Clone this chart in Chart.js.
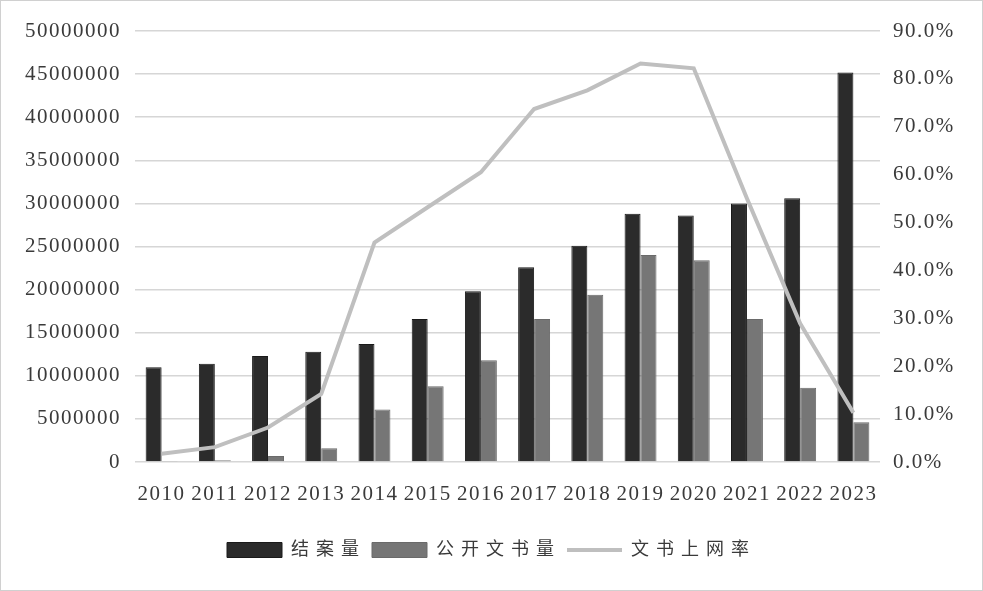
<!DOCTYPE html>
<html>
<head>
<meta charset="utf-8">
<script src="https://cdn.jsdelivr.net/npm/chart.js@4"></script>
<style>
  html, body { margin: 0; padding: 0; background: #fff; }
  #wrap { width: 983px; height: 591px; }
</style>
</head>
<body>
<div id="wrap"><canvas id="caseChart" width="983" height="591"></canvas></div>
<script>
const years = ['2010', '2011', '2012', '2013', '2014', '2015', '2016', '2017', '2018', '2019', '2020', '2021', '2022', '2023'];
const closedCases = [11000000, 11400000, 12300000, 12800000, 13700000, 16600000, 19800000, 22600000, 25100000, 28800000, 28600000, 30000000, 30600000, 45200000];
const publishedDocs = [50000, 200000, 700000, 1600000, 6100000, 8800000, 11800000, 16600000, 19400000, 24000000, 23400000, 16600000, 8600000, 4600000];
const onlineRate = [1.7, 3.1, 7.2, 14.2, 45.8, 53.2, 60.5, 73.7, 77.6, 83.2, 82.2, 55.0, 28.9, 10.3];

const FONT = "'Liberation Serif', 'Noto Sans CJK SC', serif";

const ctx = document.getElementById('caseChart').getContext('2d');

// the original is typeset loosely: wide gaps between CJK glyphs, a bit between digits
const CJK = /[\u3400-\u9fff]/;
const origFill = ctx.fillText, origMeasure = ctx.measureText;
ctx.fillText = function (t, ...rest) {
  const prev = this.letterSpacing;
  this.letterSpacing = CJK.test(t) ? '7px' : '1.5px';
  origFill.call(this, t, ...rest);
  this.letterSpacing = prev;
};
ctx.measureText = function (t) {
  const prev = this.letterSpacing;
  this.letterSpacing = CJK.test(t) ? '7px' : '1.5px';
  const m = origMeasure.call(this, t);
  this.letterSpacing = prev;
  return m;
};

// thin light frame round the picture
const frame = {
  id: 'frame',
  afterDraw(chart) {
    const c = chart.ctx;
    c.save();
    c.strokeStyle = '#d0d0d0';
    c.lineWidth = 1;
    c.strokeRect(0.5, 0.5, chart.width - 1, chart.height - 1);
    c.restore();
  }
};

const caseChart = new Chart(ctx, {
  type: 'bar',
  data: {
    labels: years,
    datasets: [{
      label: '结案量',
      data: closedCases,
      backgroundColor: '#2b2b2b',
      borderColor: '#1a1a1a',
      borderWidth: 1,
      yAxisID: 'y',
      order: 1
    }, {
      label: '公开文书量',
      data: publishedDocs,
      backgroundColor: '#767676',
      borderColor: '#6a6a6a',
      borderWidth: 1,
      yAxisID: 'y',
      order: 1
    }, {
      type: 'line',
      label: '文书上网率',
      data: onlineRate,
      borderColor: '#bfbfbf',
      backgroundColor: '#bfbfbf',
      borderWidth: 4,
      pointRadius: 0,
      tension: 0,
      yAxisID: 'y1',
      order: 0
    }]
  },
  options: {
    responsive: false,
    animation: false,
    datasets: {
      bar: { categoryPercentage: 0.6, barPercentage: 1.0 }
    },
    layout: {
      padding: { top: 31, right: 0, bottom: 22, left: 0 }
    },
    scales: {
      x: {
        afterFit: s => { s.height = 73; },
        grid: { display: false },
        border: { display: false },
        ticks: {
          color: '#3a3a3a',
          padding: 12,
          maxRotation: 0,
          autoSkip: false,
          font: { family: FONT, size: 21 }
        }
      },
      y: {
        position: 'left',
        min: 0,
        max: 50000000,
        afterFit: s => { s.width = 135; },
        ticks: {
          stepSize: 5000000,
          color: '#3a3a3a',
          padding: 14,
          font: { family: FONT, size: 21 },
          callback: v => String(v)
        },
        grid: { color: '#d6d6d6', lineWidth: 1.5, drawTicks: false },
        border: { display: false }
      },
      y1: {
        position: 'right',
        min: 0,
        max: 90,
        afterFit: s => { s.width = 103; },
        ticks: {
          stepSize: 10,
          color: '#3a3a3a',
          padding: 13,
          font: { family: FONT, size: 21 },
          callback: v => v.toFixed(1) + '%'
        },
        grid: { display: false, drawTicks: false },
        border: { display: false }
      }
    },
    plugins: {
      tooltip: { enabled: false },
      legend: {
        position: 'bottom',
        labels: {
          color: '#3a3a3a',
          font: { family: FONT, size: 18 },
          usePointStyle: true,
          pointStyleWidth: 55,
          boxHeight: 15,
          padding: 6,
          generateLabels: function (chart) {
            return chart.data.datasets.map((ds, i) => ({
              text: ds.label,
              fillStyle: ds.backgroundColor,
              strokeStyle: ds.borderColor,
              lineWidth: ds.type === 'line' ? 4 : 1,
              pointStyle: ds.type === 'line' ? 'line' : 'rect',
              hidden: !chart.isDatasetVisible(i),
              datasetIndex: i,
              fontColor: '#3a3a3a'
            }));
          }
        }
      }
    }
  },
  plugins: [frame]
});
</script>
</body>
</html>
